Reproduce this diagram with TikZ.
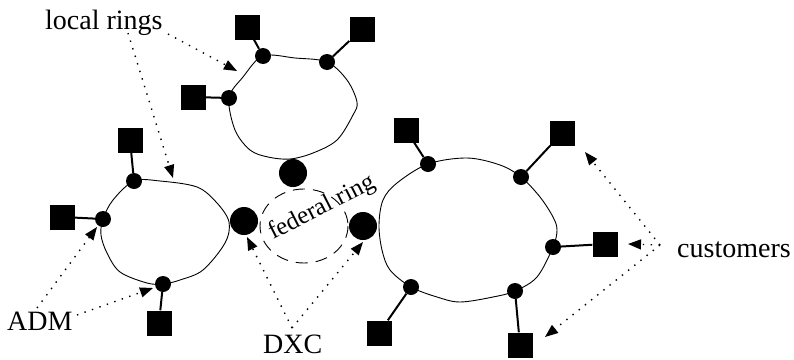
\documentclass[tikz,border=0pt]{standalone}
\usepackage{fontspec}
\setmainfont{Liberation Serif}
\usetikzlibrary{arrows.meta}
\begin{document}
\begin{tikzpicture}[x=1pt,y=-1pt,
  adm/.style={circle,fill=black,inner sep=0pt,minimum size=16pt},
  dxc/.style={circle,fill=black,inner sep=0pt,minimum size=28pt},
  cust/.style={rectangle,fill=black,inner sep=0pt,minimum size=25pt},
  ringline/.style={line width=0.9pt},
  tap/.style={line width=2pt},
  fedring/.style={line width=0.9pt,dash pattern=on 12pt off 8pt},
  pointer/.style={line width=1.4pt,dash pattern=on 1.4pt off 6.5pt,
    -{Triangle[length=13pt,width=10pt]}},
  lbl/.style={font=\fontsize{28}{30}\selectfont,inner sep=0pt,anchor=base west}]
\useasboundingbox (0,0) rectangle (794,359);

% cross-connects of the federal ring
\node[dxc] (dt) at (293,173) {};
\node[dxc] (dl) at (244,221) {};
\node[dxc] (dr) at (363,226) {};
\draw[fedring] (304,226) ellipse [x radius=44, y radius=37];

% upper local ring
\node[adm] (t1) at (263,56) {};
\node[adm] (t2) at (327,62) {};
\node[adm] (t3) at (229,98) {};
\draw[ringline] plot[smooth cycle,tension=0.55] coordinates {
  (t3) (243,77) (t1) (295,58) (t2) (347,80) (357,102) (353,115) (337,140)
  (313,153) (290,159) (268,157) (250,150) (235,130)};
\node[cust] (st1) at (247,27) {};
\node[cust] (st2) at (362,29) {};
\node[cust] (st3) at (193,97) {};
\draw[tap] (t1) -- (st1) (t2) -- (st2) (t3) -- (st3);

% left local ring
\node[adm] (l1) at (134,181) {};
\node[adm] (l2) at (103,219) {};
\node[adm] (l3) at (163,284) {};
\draw[ringline] plot[smooth cycle,tension=0.55] coordinates {
  (l2) (113,200) (l1) (160,181) (197,187) (217,203) (229,222) (225,243)
  (203,270) (180,280) (l3) (147,283) (120,272) (107,253) (101,235)};
\node[cust] (sl1) at (130,140) {};
\node[cust] (sl2) at (62,217) {};
\node[cust] (sl3) at (159,323) {};
\draw[tap] (l1) -- (sl1) (l2) -- (sl2) (l3) -- (sl3);

% right local ring
\node[adm] (r1) at (428,164) {};
\node[adm] (r2) at (521,177) {};
\node[adm] (r3) at (553,247) {};
\node[adm] (r4) at (515,291) {};
\node[adm] (r5) at (411,287) {};
\draw[ringline] plot[smooth cycle,tension=0.55] coordinates {
  (r1) (467,158) (500,165) (r2) (540,197) (553,217) (557,230) (r3) (537,277)
  (r4) (493,297) (460,302) (437,297) (r5) (390,270) (382,250) (379,225)
  (383,200) (397,183)};
\node[cust] (sr1) at (406,130) {};
\node[cust] (sr2) at (562,133) {};
\node[cust] (sr3) at (605,244) {};
\node[cust] (sr4) at (520,345) {};
\node[cust] (sr5) at (379,333) {};
\draw[tap] (r1) -- (sr1) (r2) -- (sr2) (r3) -- (sr3) (r4) -- (sr4) (r5) -- (sr5);

% labels
\node[lbl] (tlocal) at (45,29) {local rings};
\node[lbl] (tadm) at (7,330) {ADM};
\node[lbl] (tdxc) at (263,353) {DXC};
\node[lbl] (tcust) at (677,257) {customers};
\node[inner sep=0pt,anchor=base west,rotate=27,font=\fontsize{25}{27}\selectfont]
  (tfed) at (273,240) {federal ring};

% pointers from the labels
\coordinate (plocA) at (128,33);
\coordinate (plocB) at (168,34);
\coordinate (padmA) at (37,308);
\coordinate (padmB) at (77,315);
\coordinate (pdxc) at (292,328);
\coordinate (pcust) at (660,245);
\coordinate (tipA) at (237,71);
\coordinate (tipB) at (173,178);
\draw[pointer] (plocB) -- (tipA);
\draw[pointer] (plocA) -- (tipB);
\draw[pointer] (padmA) -- (97,227);
\draw[pointer] (padmB) -- (153,288);
\draw[pointer] (pdxc) -- (247,237);
\draw[pointer] (pdxc) -- (363,242);
\draw[pointer] (pcust) -- (585,152);
\draw[pointer] (pcust) -- (628,244);
\draw[pointer] (pcust) -- (545,337);
\end{tikzpicture}
\end{document}
